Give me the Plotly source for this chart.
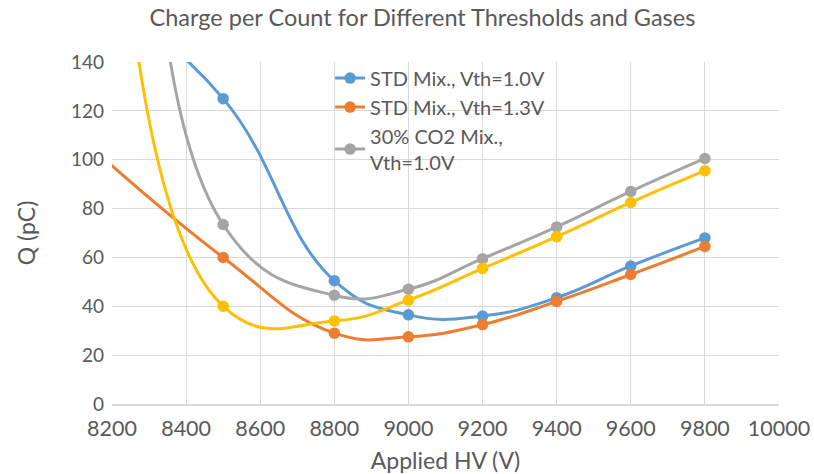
import plotly.graph_objects as go

# Applied high voltage (V) and charge per count (pC) for each configuration
hv_std10 = [8200, 8500, 8800, 9000, 9200, 9400, 9600, 9800]
q_std10 = [165, 125, 50.5, 36.5, 36, 43.5, 56.5, 68]

hv_std13 = [8100, 8500, 8800, 9000, 9200, 9400, 9600, 9800]
q_std13 = [111, 60, 29, 27.5, 32.5, 42, 53, 64.5]

hv_co2 = [8300, 8500, 8800, 9000, 9200, 9400, 9600, 9800]
q_co2 = [260, 73.5, 44.5, 47, 59.5, 72.5, 87, 100.5]

hv_co2_13 = [8200, 8500, 8800, 9000, 9200, 9400, 9600, 9800]
q_co2_13 = [260, 40, 34, 42.5, 55.5, 68.5, 82.5, 95.5]

series = [
    ("STD Mix., Vth=1.0V", hv_std10, q_std10, "#5B9BD5", True),
    ("STD Mix., Vth=1.3V", hv_std13, q_std13, "#ED7D31", True),
    ("30% CO2 Mix.,<br>Vth=1.0V", hv_co2, q_co2, "#A5A5A5", True),
    ("30% CO2 Mix., Vth=1.3V", hv_co2_13, q_co2_13, "#FFC000", False),
]

fig = go.Figure()
for name, x, y, color, show in series:
    fig.add_trace(go.Scatter(
        x=x, y=y, name=name, mode="lines+markers", showlegend=show,
        line=dict(color=color, width=3, shape="spline", smoothing=1.3),
        marker=dict(color=color, size=11.5),
    ))

font_color = "#595959"
fig.update_layout(
    width=814, height=474,
    margin=dict(l=112, r=35, t=62, b=70),
    paper_bgcolor="white", plot_bgcolor="white",
    font=dict(family="Lato", color=font_color, size=20),
    title=dict(text="Charge per Count for Different Thresholds and Gases",
               x=0.519, xanchor="center", y=0.962, yanchor="middle",
               font=dict(size=23.5, color=font_color)),
    legend=dict(x=0.327, y=1.01, xanchor="left", yanchor="top",
                bgcolor="rgba(0,0,0,0)", font=dict(size=20, color=font_color),
                tracegroupgap=0),
)
fig.update_xaxes(
    range=[8200, 10000], dtick=200, tick0=8200, tickformat="d",
    tickfont=dict(size=21.5, color=font_color), ticklabelstandoff=4,
    showgrid=True, gridcolor="#D9D9D9", gridwidth=1,
    showline=True, linecolor="#D9D9D9", linewidth=1.5,
    zeroline=False, ticks="", automargin=False,
    title=dict(text="Applied HV (V)", font=dict(size=23, color=font_color), standoff=14),
)
fig.update_yaxes(
    range=[0, 140], dtick=20,
    tickfont=dict(size=19, color=font_color), ticklabelstandoff=7,
    showgrid=True, gridcolor="#D9D9D9", gridwidth=1,
    showline=False, zeroline=False, ticks="", automargin=False,
    title=dict(text="Q (pC)", font=dict(size=23, color=font_color), standoff=28),
)

fig.write_html("out.html")
